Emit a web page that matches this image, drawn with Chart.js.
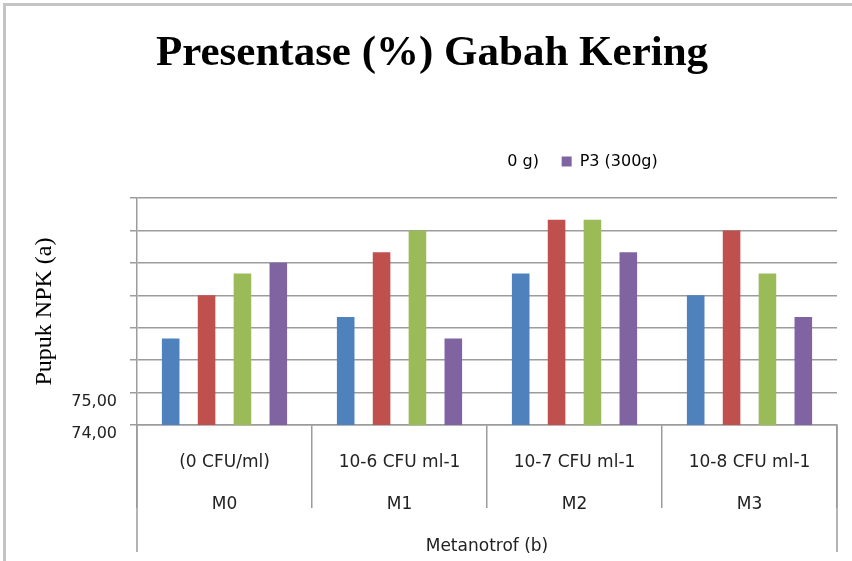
<!DOCTYPE html>
<html>
<head>
<meta charset="utf-8">
<script src="https://cdn.jsdelivr.net/npm/chart.js@4"></script>
<style>
  html, body { margin: 0; padding: 0; background: #fff; }
  #wrap { position: relative; width: 852px; height: 561px; overflow: hidden; }
  #c { position: absolute; left: 0; top: 0; }
  #frame { position: absolute; left: 3px; top: 3px; width: 900px; height: 600px;
           border-top: 3px solid #c4c4c4; border-left: 3px solid #c4c4c4; pointer-events: none; }
</style>
</head>
<body>
<div id="wrap">
  <canvas id="c" width="852" height="561"></canvas>
  <div id="frame"></div>
</div>
<script>
// ---- data ----
const categoriesTop = ['(0 CFU/ml)', '10-6 CFU ml-1', '10-7 CFU ml-1', '10-8 CFU ml-1'];
const categoriesBottom = ['M0', 'M1', 'M2', 'M3'];
const seriesNames = ['P0 (0 g)', 'P1 (100 g)', 'P2 (200 g)', 'P3 (300g)'];
const p0 = [76.67, 77.33, 78.67, 78.00];
const p1 = [78.00, 79.33, 80.33, 80.00];
const p2 = [78.67, 80.00, 80.33, 78.67];
const p3 = [79.00, 76.67, 79.33, 77.33];
const yTickLabels = { 74: '74,00', 75: '75,00' };
const legendVisibleTexts = ['0 g)', 'P3 (300g)'];

const colors = ['#4F81BD', '#C0504D', '#9BBB59', '#8064A2'];
const gridColor = '#9c9c9c';
const labels = categoriesTop.map((t, i) => [t, '', categoriesBottom[i]]);

const edgePlugin = {
  id: 'edgeLines',
  afterLayout(chart) {
    const lg = chart.legend;
    if (lg) {
      const h = lg.bottom - lg.top;
      lg.top = 130.8;
      lg.bottom = lg.top + h;
      lg.left = 466.6;
    }
  },
  afterDraw(chart) {
    const ctx = chart.ctx, a = chart.chartArea;
    ctx.save();
    ctx.strokeStyle = gridColor;
    ctx.lineWidth = 1.5;
    ctx.beginPath();
    [a.left, a.right].forEach(x => { ctx.moveTo(x, a.bottom); ctx.lineTo(x, 552); });
    ctx.stroke();
    ctx.restore();
  }
};

new Chart(document.getElementById('c'), {
  type: 'bar',
  data: {
    labels: labels,
    datasets: [p0, p1, p2, p3].map((d, i) => ({
      label: seriesNames[i],
      data: d,
      backgroundColor: colors[i],
      borderWidth: 0,
      categoryPercentage: 0.82,
      barPercentage: 0.49
    }))
  },
  options: {
    responsive: false,
    animation: false,
    layout: { padding: { left: 27, right: 15, top: 10, bottom: 0 } },
    plugins: {
      title: {
        display: true,
        text: 'Presentase (%) Gabah Kering',
        color: '#000',
        font: { family: 'Liberation Serif', size: 43, weight: 'bold', lineHeight: 1.2 },
        padding: { top: 18, bottom: 69.7 }
      },
      legend: {
        display: true,
        position: 'top',
        align: 'start',
        onClick: null,
        labels: {
          boxWidth: 10,
          boxHeight: 10,
          padding: 22.7,
          color: '#222',
          font: { family: 'DejaVu Sans', size: 16 },
          generateLabels: () => [
            { text: legendVisibleTexts[0], fillStyle: 'rgba(0,0,0,0)', strokeStyle: 'rgba(0,0,0,0)', lineWidth: 0, hidden: false, datasetIndex: 2 },
            { text: legendVisibleTexts[1], fillStyle: colors[3], strokeStyle: colors[3], lineWidth: 0, hidden: false, datasetIndex: 3 }
          ]
        }
      },
      tooltip: { enabled: false }
    },
    scales: {
      x: {
        offset: true,
        grid: { offset: true, drawOnChartArea: false, drawTicks: true, tickLength: 83, color: gridColor, lineWidth: 1.5 },
        border: { color: gridColor, width: 1.5 },
        ticks: {
          color: '#222',
          maxRotation: 0,
          autoSkip: false,
          padding: -56,
          font: { family: 'DejaVu Sans', size: 17, lineHeight: 1.24 }
        },
        title: {
          display: true,
          text: 'Metanotrof (b)',
          color: '#222',
          font: { family: 'DejaVu Sans', size: 17, lineHeight: 1.2 },
          padding: { top: 0, bottom: 4 }
        },
        afterFit(scale) { scale.height = 136; }
      },
      y: {
        min: 74,
        max: 81,
        grid: { color: gridColor, lineWidth: 1.5, tickLength: 7, drawTicks: true },
        border: { color: gridColor, width: 1.5 },
        ticks: {
          stepSize: 1,
          padding: 13,
          labelOffset: 9,
          color: '#222',
          font: { family: 'DejaVu Sans', size: 16 },
          callback: (v) => yTickLabels[v] || ''
        },
        title: {
          display: true,
          text: 'Pupuk NPK (a)',
          color: '#000',
          font: { family: 'Liberation Serif', size: 24, lineHeight: 1.2 },
          padding: { top: 3, bottom: 3 }
        },
        afterFit(scale) { scale.width = 110; }
      }
    }
  },
  plugins: [edgePlugin]
});
</script>
</body>
</html>
